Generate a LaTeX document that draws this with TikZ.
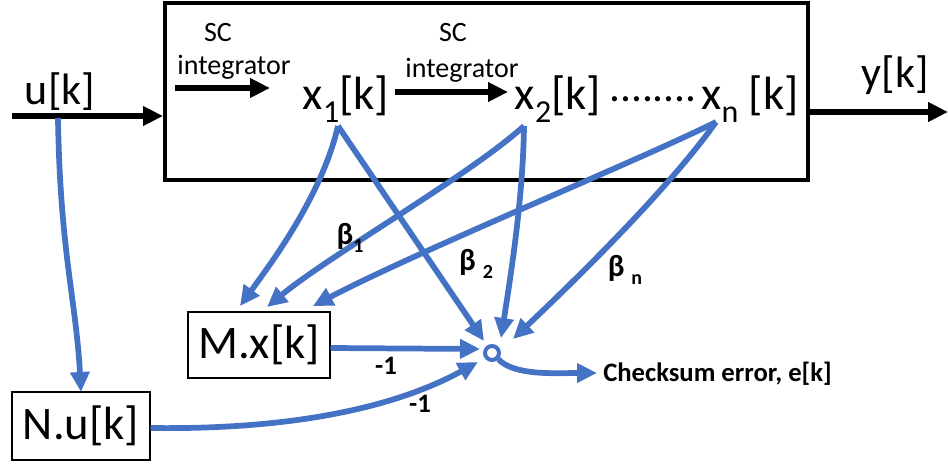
\documentclass[tikz,border=0pt]{standalone}
\usepackage{fontspec}
\setmainfont{Carlito}
\usetikzlibrary{arrows.meta}
\definecolor{ob}{RGB}{68,114,196}
\newcommand\bigsub[1]{\raisebox{-0.28em}{\fontsize{24}{26}\selectfont #1}}
\newcommand\smallsub[1]{\raisebox{-0.25em}{\fontsize{15}{17}\selectfont #1}}
\tikzset{
  barrow/.style={draw=ob, line width=4.3pt, -{Triangle[length=15pt,width=14pt]}},
  karrow/.style={draw=black, line width=4.2pt, -{Triangle[length=15pt,width=14pt]}},
  biglab/.style={font=\fontsize{33}{38}\selectfont, inner sep=0pt},
  xlab/.style={font=\fontsize{35}{40}\selectfont, inner sep=0pt},
  dotlab/.style={font=\fontsize{32.5}{38}\selectfont, inner sep=0pt},
  smalllab/.style={font=\fontsize{21}{24}\selectfont, inner sep=0pt},
  boldlab/.style={font=\bfseries\fontsize{20}{23}\selectfont, inner sep=0pt},
  betalab/.style={font=\bfseries\fontsize{23}{26}\selectfont, inner sep=0pt},
  blockbox/.style={draw, line width=1pt, font=\fontsize{35}{40}\selectfont, inner sep=0pt},
}
\begin{document}
\begin{tikzpicture}[x=0.75pt, y=-0.75pt]
\useasboundingbox (0,0) rectangle (948,464);
% main system box
\node[draw, line width=3pt, minimum width=482.25pt, minimum height=132.75pt, inner sep=0pt] (sys) at (486.5,91.5) {};
% input / output
\coordinate (uin) at (12,116);
\coordinate (yout) at (948,112);
\draw[karrow] (uin) -- (uin -| sys.west);
\draw[karrow] (sys.east |- yout) -- (yout);
\node[biglab] (ul) at (60,92) {u[k]};
\node[biglab] (yl) at (895,75) {y[k]};
% integrator labels
\node[smalllab] (sc1) at (218,33) {SC};
\node[smalllab] (int1) at (234,67) {integrator};
\node[smalllab] (sc2) at (453,33) {SC};
\node[smalllab] (int2) at (462,70) {integrator};
\coordinate (a1s) at (175,88);
\coordinate (a1e) at (270,88);
\coordinate (a2s) at (395,92);
\coordinate (a2e) at (508,92);
\draw[karrow] (a1s) -- (a1e);
\draw[karrow] (a2s) -- (a2e);
% states
\node[xlab] (x1) at (346,99) {x\bigsub{1}[k]};
\node[xlab] (x2) at (558,99) {x\bigsub{2}[k]};
\node[dotlab, anchor=base west] (dots) at (609,101) {........};
\node[xlab] (xn) at (750,99) {x\bigsub{n} [k]};
% blocks
\node[blockbox, minimum width=106.5pt, minimum height=49.5pt] (M) at (259,345) {M.x[k]};
\node[blockbox, minimum width=103.5pt, minimum height=51pt] (N) at (81,426) {N.u[k]};
% summing junction
\node[draw=ob, line width=3pt, fill=white, circle, minimum size=10.5pt, inner sep=0pt] (sum) at (492,353) {};
% anchor coordinates
\coordinate (x1b) at (338,126);
\coordinate (x2b) at (524,126);
\coordinate (xnb) at (716,122);
\coordinate (Mt1) at (240,306);
\coordinate (Mt2) at (267,307);
\coordinate (Mt3) at (313,306);
\coordinate (s1) at (484,341);
\coordinate (s2) at (501,338);
\coordinate (s3) at (513,339);
\coordinate (s4) at (480,349);
\coordinate (s5) at (478,362);
\coordinate (Nt) at (81,392);
\coordinate (ek) at (597,373);
% blue connectors
\draw[barrow] (x1b) .. controls (322,195) and (272,262) .. (Mt1);
\draw[barrow] (x1b) -- (s1);
\draw[barrow] (x2b) .. controls (470,175) and (330,255) .. (Mt2);
\draw[barrow] (x2b) .. controls (523,200) and (510,280) .. (s2);
\draw[barrow] (xnb) .. controls (640,160) and (420,250) .. (Mt3);
\draw[barrow] (xnb) .. controls (668,190) and (570,285) .. (s3);
\draw[barrow] (58,118) .. controls (60,250) and (76,300) .. (Nt);
\draw[barrow] (M.east |- 0,348) -- (s4);
\draw[barrow] (N.east |- 0,428) .. controls (300,430) and (400,405) .. (s5);
\draw[barrow] (sum.south east) .. controls (515,376) and (555,373) .. (ek);
% labels
\node[boldlab, anchor=west] (err) at (603,374) {Checksum error, e[k]};
\node[boldlab] (m1a) at (386,366) {-1};
\node[boldlab] (m1b) at (420,404) {-1};
\node[betalab] (b1) at (350,238) {β\smallsub{1}};
\node[betalab] (b2) at (476,264) {β \smallsub{2}};
\node[betalab] (bn) at (625,270) {β \smallsub{n}};
\end{tikzpicture}
\end{document}
